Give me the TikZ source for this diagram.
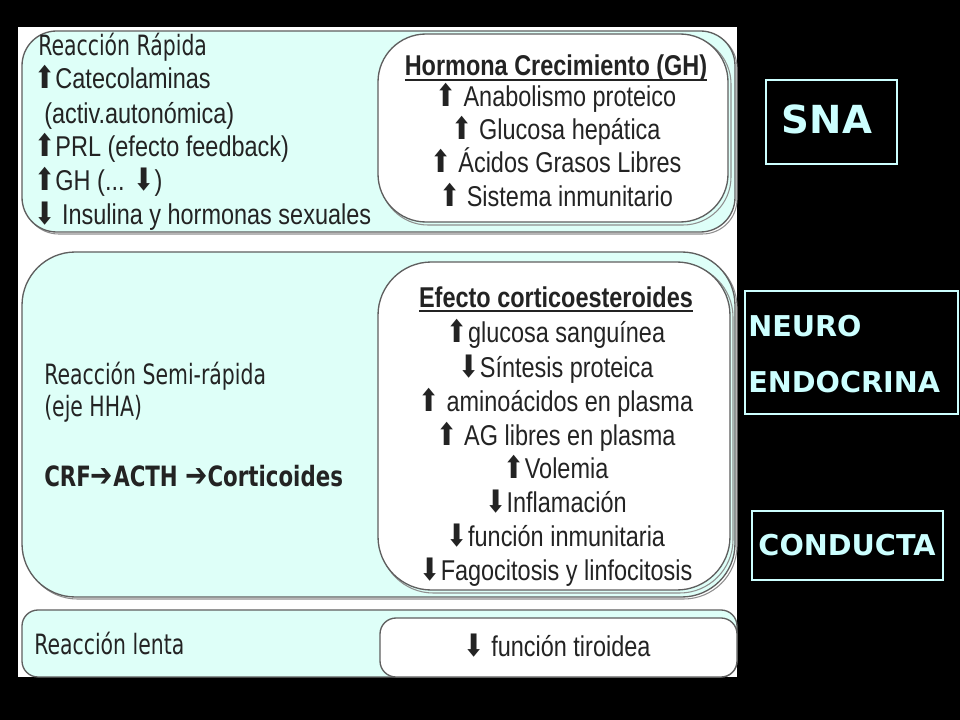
\documentclass[tikz,border=0pt]{standalone}
\usepackage{fontspec}
\usepackage{graphicx}
\setmainfont{Liberation Sans}
\newfontfamily\tahoma[FakeStretch=0.89]{DejaVu Sans}
\newfontfamily\tahomab[FakeStretch=0.93]{DejaVu Sans Bold}
\newfontfamily\arrfont{DejaVu Sans}
\newcommand\UP{{\arrfont\fontsize{19}{14}\selectfont ⬆}}
\newcommand\DN{{\arrfont\fontsize{19}{14}\selectfont ⬇}}
\newcommand\RA{{\arrfont\fontsize{20}{18}\selectfont ➔}}
\newcommand\tall[1]{\scalebox{1}[1.22]{#1}}
\newcommand\ulin[1]{\vtop{\hbox{\raisebox{0pt}[\height][0pt]{#1}}\kern1.8pt\hrule height 1.3pt}}
\definecolor{boxcyan}{RGB}{222,255,248}
\definecolor{edgegray}{RGB}{95,95,95}
\definecolor{txtgray}{RGB}{35,35,35}
\definecolor{labcyan}{RGB}{204,255,255}
\begin{document}
\begin{tikzpicture}[x=0.75pt,y=-0.75pt,
  panel/.style={draw=edgegray,line width=1pt,fill=boxcyan},
  inner/.style={draw=edgegray,line width=1pt,fill=white},
  shadowline/.style={draw=edgegray!70,line width=0.8pt},
  ltext/.style={inner sep=0pt,anchor=base west,text=txtgray,font=\tahoma\fontsize{17.2}{20}\selectfont},
  atext/.style={inner sep=0pt,anchor=base west,text=txtgray,font=\fontsize{17.6}{20}\selectfont},
  ctext/.style={inner sep=0pt,anchor=base,text=txtgray,font=\fontsize{17.6}{20}\selectfont},
  ttext/.style={inner sep=0pt,anchor=base,text=txtgray,font=\bfseries\fontsize{17.6}{20}\selectfont},
  lab/.style={draw=labcyan,line width=2.2pt},
  labtext/.style={inner sep=0pt,text=labcyan,font=\arrfont\bfseries\fontsize{21.5}{24}\selectfont}]
\fill[black] (0,0) rectangle (960,720);
\useasboundingbox (0,0) rectangle (960,720);
\fill[white] (18,27) rectangle (737,677);
% box 1
\draw[shadowline,rounded corners=26] (24,33) rectangle (737,234);
\draw[panel,rounded corners=26] (22,31) rectangle (735,232);
\draw[shadowline,rounded corners=36] (380,36) rectangle (731,225);
\draw[inner,rounded corners=36] (378,34) rectangle (728,222);
\node[ltext] (r1) at (38,56) {\tall{Reacción Rápida}};
\node[atext] (r1a) at (34,89) {\tall{\UP Catecolaminas}};
\node[atext] (r1b) at (44,124) {\tall{(activ.autonómica)}};
\node[atext] (r1c) at (34,157) {\tall{\UP PRL (efecto feedback)}};
\node[atext] (r1d) at (34,191) {\tall{\UP GH (... \DN)}};
\node[atext] (r1e) at (34,225) {\tall{\DN\ Insulina y hormonas sexuales}};
\node[ttext] (gh) at (556,76) {\tall{\ulin{Hormona Crecimiento (GH)}}};
\node[ctext] (gh1) at (556,107) {\tall{\UP\ Anabolismo proteico}};
\node[ctext] (gh2) at (556,140) {\tall{\UP\ Glucosa hepática}};
\node[ctext] (gh3) at (556,173) {\tall{\UP\ Ácidos Grasos Libres}};
\node[ctext] (gh4) at (556,207) {\tall{\UP\ Sistema inmunitario}};
% box 2
\draw[shadowline,rounded corners=40] (24,254) rectangle (737,599);
\draw[panel,rounded corners=40] (22,252) rectangle (735,597);
\draw[shadowline,rounded corners=40] (380,264) rectangle (733,593);
\draw[inner,rounded corners=40] (378,262) rectangle (730,590);
\node[ltext] (r2) at (44,384) {\tall{Reacción Semi-rápida}};
\node[ltext] (r2a) at (44,416) {\tall{(eje HHA)}};
\node[ltext,font=\tahomab\fontsize{17.2}{20}\selectfont] (r2b) at (44,486) {\tall{CRF\RA ACTH \RA Corticoides}};
\node[ttext] (co) at (556,307) {\tall{\ulin{Efecto corticoesteroides}}};
\node[ctext] (co1) at (556,342) {\tall{\UP glucosa sanguínea}};
\node[ctext] (co2) at (556,377) {\tall{\DN Síntesis proteica}};
\node[ctext] (co3) at (556,411) {\tall{\UP\ aminoácidos en plasma}};
\node[ctext] (co4) at (556,445) {\tall{\UP\ AG libres en plasma}};
\node[ctext] (co5) at (556,478) {\tall{\UP Volemia}};
\node[ctext] (co6) at (556,512) {\tall{\DN Inflamación}};
\node[ctext] (co7) at (556,546) {\tall{\DN función inmunitaria}};
\node[ctext] (co8) at (556,580) {\tall{\DN Fagocitosis y linfocitosis}};
% box 3
\draw[panel,rounded corners=12] (22,610) rectangle (737,677);
\draw[inner,rounded corners=12] (380,618) rectangle (737,677);
\node[ltext] (r3) at (34,654) {\tall{Reacción lenta}};
\node[ctext] (r3a) at (557,656) {\tall{\DN\ función tiroidea}};
% right labels
\draw[lab] (766,80) rectangle (897,164);
\node[labtext,font=\arrfont\bfseries\fontsize{29}{32}\selectfont] (sna) at (827,119) {SNA};
\draw[lab] (745,291) rectangle (958,414);
\node[labtext,anchor=base west] (neuro) at (748,336) {NEURO};
\node[labtext,anchor=base west] (endo) at (748,392) {ENDOCRINA};
\draw[lab] (752,511) rectangle (943,580);
\node[labtext] (cond) at (847,545) {CONDUCTA};
\end{tikzpicture}
\end{document}
